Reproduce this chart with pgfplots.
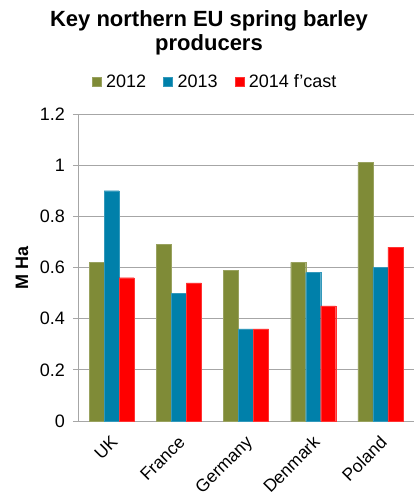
\documentclass[border=0pt]{standalone}
\usepackage{pgfplots}
\pgfplotsset{compat=1.18}
\usepackage{fontspec}
\setmainfont{Liberation Sans}
\definecolor{olive12}{HTML}{7F8B37}
\definecolor{blue13}{HTML}{0080AA}
\definecolor{red14}{HTML}{FF0000}
\definecolor{gridc}{HTML}{A6A6A6}
\begin{document}
\begin{tikzpicture}
\useasboundingbox (-78bp,-76bp) rectangle (336bp,421bp);
\begin{axis}[
  scale only axis,
  width=336bp, height=307bp,
  ymin=0, ymax=1.2,
  ytick={0,0.2,0.4,0.6,0.8,1,1.2},
  yticklabels={0,0.2,0.4,0.6,0.8,1,1.2},
  xmin=-0.5, xmax=4.5,
  xtick={0,1,2,3,4},
  xticklabels={UK,France,Germany,Denmark,Poland},
  extra x ticks={-0.5,0.5,1.5,2.5,3.5,4.5},
  extra x tick labels={},
  extra x tick style={grid=none, major tick length=5bp, tick style={gridc, thick}},
  x tick style={draw=none},
  y tick style={gridc, thick},
  major tick length=5bp,
  tick pos=left,
  tick align=outside,
  xticklabel style={rotate=45, anchor=north east, font=\fontsize{17.5bp}{20bp}\selectfont, inner sep=1bp, yshift=-4bp, xshift=-6bp},
  yticklabel style={font=\fontsize{18bp}{20bp}\selectfont, inner sep=2bp, xshift=-6bp},
  /pgf/number format/assume math mode=true,
  ymajorgrids,
  grid style={gridc, thick},
  axis x line*=bottom,
  axis y line*=left,
  axis line style={gridc, thick},
  ylabel={\bfseries M Ha},
  ylabel style={font=\fontsize{18bp}{20bp}\selectfont, at={(-56bp,0.5)}, anchor=center},
  ybar=0pt,
  bar width=15bp,
  legend columns=3,
  legend style={draw=none, at={(137bp,339bp)}, anchor=center,
    font=\fontsize{18bp}{20bp}\selectfont, inner sep=1bp,
    /tikz/every even column/.append style={column sep=15bp}},
  legend image code/.code={\fill[#1] (0bp,-4.5bp) rectangle (9bp,4.5bp); \path (12bp,0bp);},
]
\addplot[fill=olive12, draw=olive12!80!white] coordinates {(0,0.62) (1,0.69) (2,0.59) (3,0.62) (4,1.01)};
\addlegendentry{2012}
\addplot[fill=blue13, draw=blue13!80!white] coordinates {(0,0.90) (1,0.50) (2,0.36) (3,0.58) (4,0.60)};
\addlegendentry{2013}
\addplot[fill=red14, draw=red14!80!white] coordinates {(0,0.56) (1,0.54) (2,0.36) (3,0.45) (4,0.68)};
\addlegendentry{2014 f'cast}
\end{axis}
\node[align=center, font=\bfseries\fontsize{22bp}{24bp}\selectfont] at (131bp,388bp) {Key northern EU spring barley\\producers};
\end{tikzpicture}
\end{document}
